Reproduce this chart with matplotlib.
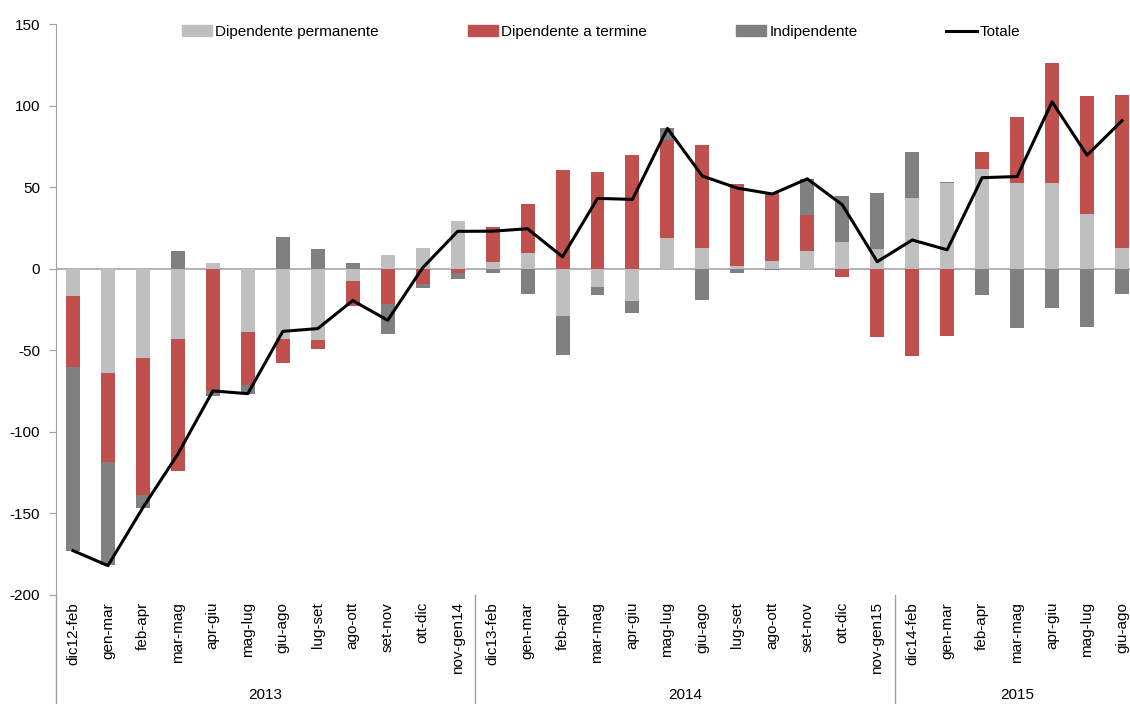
import numpy as np
import matplotlib
matplotlib.use("Agg")
import matplotlib.pyplot as plt
from matplotlib.lines import Line2D
from matplotlib.patches import Patch

plt.rcParams['font.family'] = ['Liberation Sans', 'DejaVu Sans']
plt.rcParams['axes.unicode_minus'] = False

# Categories (rolling quarters) and year groups
periods = ['dic12-feb', 'gen-mar', 'feb-apr', 'mar-mag', 'apr-giu', 'mag-lug', 'giu-ago',
           'lug-set', 'ago-ott', 'set-nov', 'ott-dic', 'nov-gen14',
           'dic13-feb', 'gen-mar', 'feb-apr', 'mar-mag', 'apr-giu', 'mag-lug', 'giu-ago',
           'lug-set', 'ago-ott', 'set-nov', 'ott-dic', 'nov-gen15',
           'dic14-feb', 'gen-mar', 'feb-apr', 'mar-mag', 'apr-giu', 'mag-lug', 'giu-ago']
years = ['2013', '2014', '2015']
year_sizes = [12, 12, 7]

# Values (thousands)
permanente = [-17, -64, -54.5, -43, 3.3, -39, -43.3, -43.7, -7.6, 8.2, 12.7, 29,
              4.3, 9.4, -29, -11.4, -20, 18.6, 12.7, 1.8, 4.7, 10.6, 16.5, 11.8,
              43.1, 52.5, 60.9, 52.5, 52.5, 33.3, 12.5]
termine = [-43.3, -54.4, -84.4, -81.1, -74.8, -32.5, -14.7, -5.3, -15.5, -21.7, -9.4, -2.7,
           21.3, 30.4, 60.3, 59, 69.9, 60.2, 63.1, 50.1, 41.7, 22.1, -5.1, -42.1,
           -53.7, -41.5, 10.8, 40.6, 73.7, 72.3, 93.9]
indipendente = [-112.5, -63.5, -7.5, 10.6, -3.4, -5.1, 19.6, 12.3, 3.6, -18.1, -2.7, -3.4,
                -2.6, -15.3, -24, -4.5, -7.4, 7.2, -19, -2.5, -0.6, 22.4, 27.8, 34.6,
                28.2, 0.6, -15.9, -36.6, -23.9, -36, -15.7]
totale = [-172.8, -182, -146.4, -113.6, -74.9, -76.6, -38.4, -36.7, -19.5, -31.6, 0.6, 22.9,
          23, 24.5, 7.3, 43.1, 42.5, 86, 56.8, 49.4, 45.8, 55.1, 39.2, 4.3,
          17.6, 11.6, 55.8, 56.5, 102.3, 69.6, 90.7]

series = [('Dipendente permanente', permanente, '#BFBFBF'),
          ('Dipendente a termine', termine, '#C0504D'),
          ('Indipendente', indipendente, '#808080')]

fig = plt.figure(figsize=(11.3, 7.04), dpi=100)
ax = fig.add_axes([55.5 / 1130, 1 - 595 / 704, 1084 / 1130, 571 / 704])

x = np.arange(len(periods))
pos_base = np.zeros(len(periods))
neg_base = np.zeros(len(periods))
for name, vals, col in series:
    v = np.array(vals, dtype=float)
    pos = np.where(v > 0, v, 0)
    neg = np.where(v < 0, v, 0)
    ax.bar(x, pos, 0.4, bottom=pos_base, color=col, zorder=2)
    ax.bar(x, neg, 0.4, bottom=neg_base, color=col, zorder=2)
    pos_base += pos
    neg_base += neg

ax.plot(x, totale, color='black', lw=2.2, zorder=3)
ax.axhline(0, color='#A6A6A6', lw=1.2, zorder=1)

ax.set_xlim(-0.5, len(periods) - 0.5)
ax.set_ylim(-200, 150)
ax.set_yticks(range(-200, 151, 50))
ax.tick_params(axis='y', labelsize=11, length=5, color='#A0A0A0', pad=6)
ax.set_xticks(x)
ax.set_xticklabels(periods, rotation=90, fontsize=11)
ax.tick_params(axis='x', length=0, pad=5)
for s in ['top', 'right', 'bottom']:
    ax.spines[s].set_visible(False)
ax.spines['left'].set_color('#A0A0A0')

# group separators and year labels
bot = -109 / 571
edges = np.cumsum([0] + year_sizes) - 0.5
trans = ax.get_xaxis_transform()
for e in edges[:-1]:
    ax.add_line(Line2D([e, e], [0, bot], transform=trans, color='#A0A0A0', lw=1, clip_on=False))
for i, yr in enumerate(years):
    mid = (edges[i] + edges[i + 1]) / 2
    if i == len(years) - 1:
        mid = (edges[i] + 0.5 + len(periods) - 1) / 2
    ax.text(mid, -100 / 571, yr, transform=trans, ha='center', va='center', fontsize=11)

handles = [Patch(color=c, label=n) for n, _, c in series]
handles.append(Line2D([], [], color='black', lw=2.2, label='Totale'))
fig.legend(handles=handles, loc='center', bbox_to_anchor=(601 / 1130, 1 - 32 / 704), ncol=4,
           frameon=False, fontsize=11, handlelength=2.0, handleheight=0.7,
           handletextpad=0.2, columnspacing=5.8)

fig.savefig('out.png', dpi=100)
